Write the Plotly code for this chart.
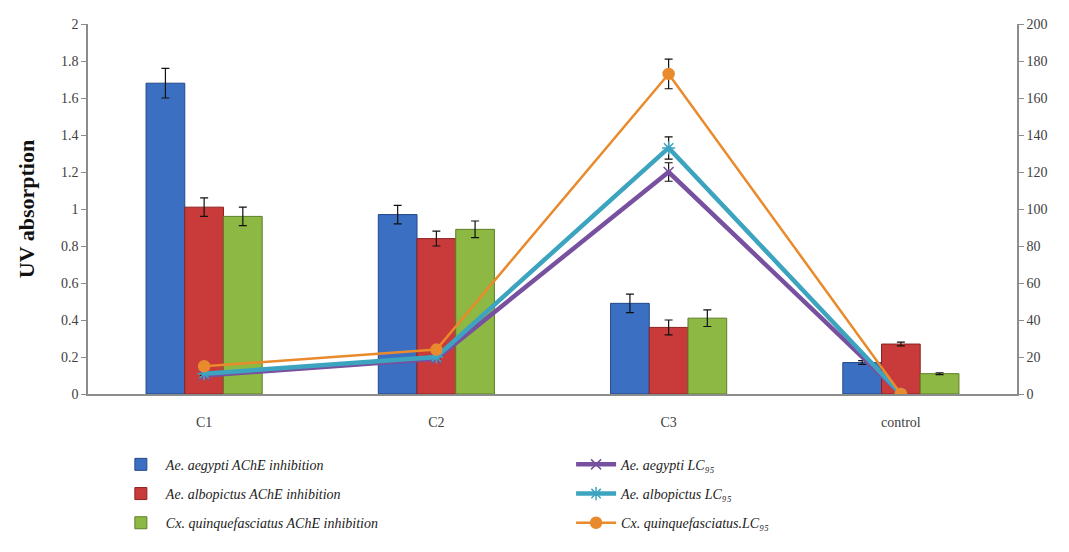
import plotly.graph_objects as go

categories = ["C1", "C2", "C3", "control"]

# AChE inhibition (UV absorption, left axis)
aegypti_ache = [1.68, 0.97, 0.49, 0.17]
aegypti_ache_err = [0.08, 0.05, 0.05, 0.01]
albopictus_ache = [1.01, 0.84, 0.36, 0.27]
albopictus_ache_err = [0.05, 0.04, 0.04, 0.01]
quinque_ache = [0.96, 0.89, 0.41, 0.11]
quinque_ache_err = [0.05, 0.045, 0.045, 0.005]

# LC95 values (right axis)
aegypti_lc = [10, 19, 120, 0]
aegypti_lc_err = [0, 0, 5, 0]
albopictus_lc = [11, 20, 133, 0]
albopictus_lc_err = [0, 0, 6, 0]
quinque_lc = [15, 24, 173, 0]
quinque_lc_err = [0, 0, 8, 0]

left_ticks = [0, 0.2, 0.4, 0.6, 0.8, 1, 1.2, 1.4, 1.6, 1.8, 2]
left_tick_text = ["0", "0.2", "0.4", "0.6", "0.8", "1", "1.2", "1.4", "1.6", "1.8", "2"]
right_ticks = [0, 20, 40, 60, 80, 100, 120, 140, 160, 180, 200]

SERIF = "Liberation Serif, Times New Roman, serif"
err_style = dict(type="data", thickness=1.2, width=4, color="#111111")

fig = go.Figure()

bar_specs = [
    ("Ae. aegypti AChE inhibition", aegypti_ache, aegypti_ache_err, "#3b6fc2", "#24498a"),
    ("Ae. albopictus AChE inhibition", albopictus_ache, albopictus_ache_err, "#c93a3a", "#8c2222"),
    ("Cx. quinquefasciatus AChE inhibition", quinque_ache, quinque_ache_err, "#8cb843", "#5d7f27"),
]
for i, (name, vals, errs, fill, edge) in enumerate(bar_specs):
    fig.add_trace(go.Bar(
        x=categories, y=vals, name=name,
        marker=dict(color=fill, line=dict(color=edge, width=1)),
        error_y=dict(array=errs, **err_style),
        legend="legend", legendgroup=f"bar{i}", yaxis="y",
    ))

line_specs = [
    ("Ae. aegypti LC₉₅", aegypti_lc, aegypti_lc_err, "#7850a0", 4.5, "x-thin", 10),
    ("Ae. albopictus LC₉₅", albopictus_lc, albopictus_lc_err, "#3da4c0", 4.5, "asterisk", 11),
    ("Cx. quinquefasciatus.LC₉₅", quinque_lc, quinque_lc_err, "#e98a2c", 2.5, "circle", 11),
]
for i, (name, vals, errs, color, lw, sym, size) in enumerate(line_specs):
    fig.add_trace(go.Scatter(
        x=categories, y=vals, name=name, mode="lines+markers",
        line=dict(color=color, width=lw),
        marker=dict(symbol=sym, size=size, color=color,
                    line=dict(color=color, width=1.5)),
        error_y=dict(array=errs, **err_style),
        legend="legend2", legendgroup=f"line{i}", yaxis="y2",
    ))

axis_font = dict(family=SERIF, size=14, color="#404040")
legend_font = dict(family=SERIF, size=14, color="#222222", style="italic")

fig.update_layout(
    width=1069, height=552,
    margin=dict(l=88, r=52, t=24, b=158),
    paper_bgcolor="white", plot_bgcolor="white",
    font=dict(family=SERIF),
    barmode="group", bargap=0.5, bargroupgap=0,
    xaxis=dict(
        type="category", showline=True, linecolor="#8c8c8c", linewidth=1.5,
        ticks="", tickfont=axis_font, showgrid=False, ticklabelstandoff=14,
        automargin=False,
    ),
    yaxis=dict(
        range=[0, 2], tickvals=left_ticks, ticktext=left_tick_text,
        showline=True, linecolor="#8c8c8c", linewidth=1.5,
        ticks="outside", ticklen=5, tickcolor="#8c8c8c",
        tickfont=axis_font, showgrid=False, zeroline=False, automargin=False,
        title=dict(text="<b>UV absorption</b>",
                   font=dict(family=SERIF, size=22, color="#111111"), standoff=20),
    ),
    yaxis2=dict(
        range=[0, 200], tickvals=right_ticks, overlaying="y", side="right",
        showline=True, linecolor="#8c8c8c", linewidth=1.5,
        ticks="outside", ticklen=5, tickcolor="#8c8c8c",
        tickfont=axis_font, showgrid=False, zeroline=False, automargin=False,
    ),
    legend=dict(
        x=0.03, y=-0.148, xanchor="left", yanchor="top",
        orientation="v", font=legend_font, tracegroupgap=8,
        bgcolor="rgba(0,0,0,0)", itemwidth=40,
    ),
    legend2=dict(
        x=0.52, y=-0.148, xanchor="left", yanchor="top",
        orientation="v", font=legend_font, tracegroupgap=8,
        bgcolor="rgba(0,0,0,0)", itemwidth=40,
    ),
    showlegend=True,
)

fig.write_html("out.html")
